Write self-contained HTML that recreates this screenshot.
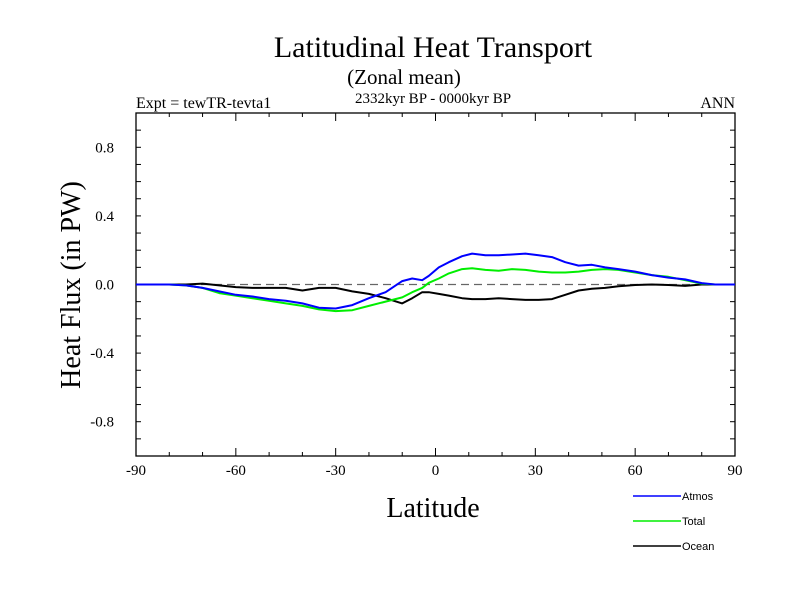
<!DOCTYPE html>
<html><head><meta charset="utf-8"><style>body{margin:0;background:#fff}svg text{font-family:"Liberation Serif",serif}</style></head>
<body>
<svg width="800" height="600" xmlns="http://www.w3.org/2000/svg">
<text x="433" y="57" font-size="30" text-anchor="middle">Latitudinal Heat Transport</text>
<text x="404" y="84" font-size="21" text-anchor="middle">(Zonal mean)</text>
<text x="136" y="108" font-size="16">Expt = tewTR-tevta1</text>
<text x="433" y="103" font-size="15" text-anchor="middle">2332kyr BP - 0000kyr BP</text>
<text x="735" y="108" font-size="16" text-anchor="end">ANN</text>
<text transform="translate(80,285) rotate(-90)" font-size="28" text-anchor="middle">Heat Flux (in PW)</text>
<text x="433" y="517" font-size="28" text-anchor="middle">Latitude</text>
<g id="axes"></g>
<g id="series"></g>
<g id="legend"></g>
</svg>
<script>
const lats=[-90,-80,-75,-70,-65,-60,-55,-50,-45,-40,-35,-30,-25,-20,-15,-10,-7,-4,-2,1,4,8,11,15,19,23,27,31,35,39,43,47,51,55,60,65,70,75,80,84,90];
const atmos=[0,0,-0.005,-0.02,-0.04,-0.06,-0.07,-0.085,-0.095,-0.11,-0.135,-0.14,-0.12,-0.08,-0.045,0.02,0.035,0.025,0.05,0.1,0.13,0.165,0.18,0.17,0.17,0.175,0.18,0.17,0.16,0.13,0.11,0.115,0.1,0.09,0.075,0.055,0.04,0.03,0.008,0,0];
const total=[0,0,-0.005,-0.02,-0.05,-0.065,-0.08,-0.095,-0.11,-0.125,-0.145,-0.155,-0.15,-0.125,-0.1,-0.075,-0.045,-0.02,0.01,0.035,0.065,0.09,0.095,0.085,0.08,0.09,0.085,0.075,0.07,0.07,0.075,0.085,0.09,0.085,0.07,0.055,0.045,0.025,0.005,0,0];
const ocean=[0,0,0,0.005,-0.005,-0.015,-0.02,-0.02,-0.02,-0.035,-0.02,-0.02,-0.04,-0.055,-0.08,-0.11,-0.08,-0.045,-0.045,-0.055,-0.065,-0.08,-0.085,-0.085,-0.08,-0.085,-0.09,-0.09,-0.085,-0.06,-0.035,-0.025,-0.02,-0.01,-0.003,0,-0.003,-0.008,0,0,0];
const yTickLabels=["0.8","0.4","0.0","-0.4","-0.8"];
const yTickValues=[0.8,0.4,0,-0.4,-0.8];
const xTickValues=[-90,-60,-30,0,30,60,90];
const L=136,R=735,T=113,B=456;
const X=v=>L+(v+90)/180*(R-L);
const Y=v=>T+(1-v)/2*(B-T);
const NS="http://www.w3.org/2000/svg";
function mk(tag,attrs,parent){const e=document.createElementNS(NS,tag);for(const k in attrs)e.setAttribute(k,attrs[k]);parent.appendChild(e);return e;}
const ax=document.getElementById('axes');
const frame=mk('rect',{x:L,y:T,width:R-L,height:B-T,fill:'none',stroke:'#000','stroke-width':1.3},ax);


const zl=mk('line',{x1:L,x2:R,y1:Y(0),y2:Y(0),stroke:'#666','stroke-dasharray':'8,5','stroke-width':1.2},ax);


for(let i=-9;i<=9;i++){const y=Y(i/10);mk('line',{x1:L,x2:L+5,y1:y,y2:y,stroke:'#000'},ax);mk('line',{x1:R,x2:R-5,y1:y,y2:y,stroke:'#000'},ax);}
for(let d=-80;d<=80;d+=10){const x=X(d);const len=(d%30===0)?8:4;mk('line',{x1:x,x2:x,y1:B,y2:B-len,stroke:'#000'},ax);mk('line',{x1:x,x2:x,y1:T,y2:T+len,stroke:'#000'},ax);}
yTickValues.forEach((v,i)=>{const t=mk('text',{x:L-22,y:Y(v)+5,'font-size':15,'text-anchor':'end'},ax);t.textContent=yTickLabels[i];

});
xTickValues.forEach(v=>{const t=mk('text',{x:X(v),y:B+19,'font-size':15,'text-anchor':'middle'},ax);t.textContent=String(v);

});
const sg=document.getElementById('series');
const series=[["ocean",ocean,"#000"],["total",total,"#00ee00"],["atmos",atmos,"#0000ff"]];
series.forEach(([n,vals,c])=>{const d=vals.map((v,i)=>(i?'L':'M')+X(lats[i]).toFixed(1)+','+Y(v).toFixed(1)).join('');
const p=mk('path',{d:d,fill:'none',stroke:c,'stroke-width':2,'stroke-linejoin':'round'},sg);

});
const lg=document.getElementById('legend');
[["Atmos","#0000ff",496],["Total","#00ee00",521],["Ocean","#000",546]].forEach(([n,c,y])=>{
const g=mk('g',{},lg);


mk('line',{x1:633,x2:681,y1:y,y2:y,stroke:c,'stroke-width':1.5},g);
const t=mk('text',{x:682,y:y+4,'font-size':11,style:'font-family:"Liberation Sans",sans-serif'},g);t.textContent=n;});
</script>
</body></html>
